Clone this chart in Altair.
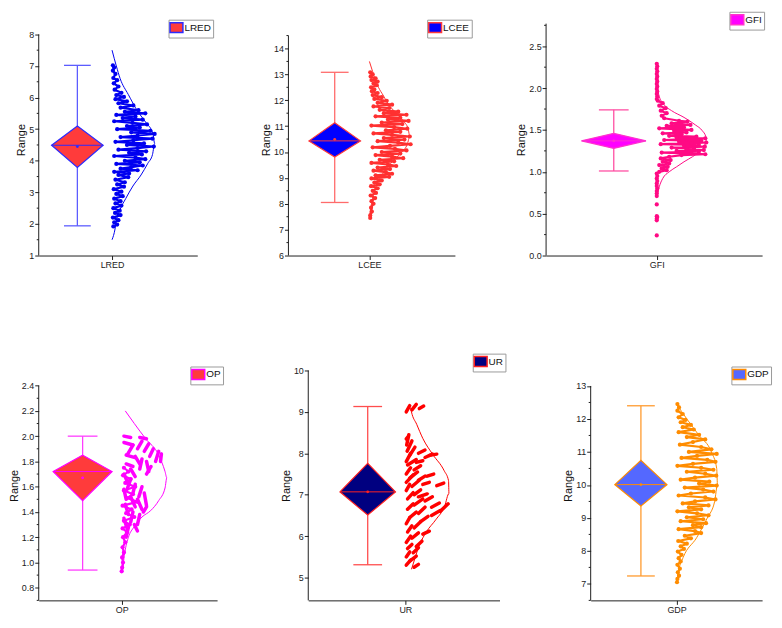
import math
import altair as alt
import pandas as pd

NAMES = ["LRED", "LCEE", "GFI", "OP", "UR", "GDP"]
WHISK_LO = [1.94, 8.05, 1.01, 0.94, 5.31, 7.24]
WHISK_HI = [7.02, 13.08, 1.74, 2.00, 9.13, 12.40]
Q1 = [3.79, 9.81, 1.28, 1.49, 6.51, 9.36]
Q3 = [5.10, 11.13, 1.46, 1.85, 7.76, 10.75]
MEDIAN = [4.49, 10.43, 1.37, 1.72, 7.07, 10.01]
MEAN = [4.45, 10.49, 1.37, 1.67, 7.07, 10.01]

BOX_FILL = ["#ff3b3b", "#0000ff", "#ff00ff", "#ff3b3b", "#000080", "#5468ff"]
BOX_EDGE = ["#2b2bff", "#ff3b3b", "#ff33cc", "#ff00ff", "#ff2020", "#ff8c00"]
WHISK_COL = ["#5c5cff", "#ff6b6b", "#ff4fa3", "#ff3dff", "#ff4d4d", "#ff9a2e"]
PT_COL = ["#0000f0", "#ff3030", "#ff0a84", "#ff00ff", "#ff0000", "#ff8c00"]

# scatter paths: (value, relative jitter 0..1)
LRED_PTS = [(7.02,0.02),(6.95,0.05),(6.85,0.02),(6.75,0.08),(6.62,0.03),(6.55,0.12),(6.45,0.04),(6.35,0.15),
            (6.25,0.06),(6.15,0.22),(6.08,0.1),(6.02,0.28),(5.95,0.08),(5.88,0.35),(5.82,0.15),(5.75,0.5),
            (5.68,0.2),(5.6,0.62),(5.55,0.3),(5.5,0.78),(5.45,0.1),(5.4,0.55),(5.35,0.25),(5.3,0.72),
            (5.25,0.05),(5.2,0.48),(5.15,0.82),(5.1,0.35),(5.05,0.65),(5.0,0.12),(4.95,0.9),(4.9,0.45),
            (4.85,1.0),(4.8,0.6),(4.75,0.2),(4.7,0.95),(4.65,0.5),(4.6,0.08),(4.55,0.75),(4.5,0.35),
            (4.45,0.98),(4.4,0.6),(4.35,0.15),(4.3,0.8),(4.25,0.4),(4.2,0.7),(4.15,0.05),(4.1,0.55),
            (4.05,0.78),(4.0,0.3),(3.95,0.65),(3.9,0.1),(3.85,0.72),(3.8,0.45),(3.75,0.2),(3.7,0.6),
            (3.65,0.05),(3.6,0.4),(3.55,0.15),(3.48,0.38),(3.4,0.08),(3.32,0.3),(3.25,0.12),(3.18,0.28),
            (3.1,0.04),(3.02,0.22),(2.95,0.1),(2.88,0.25),(2.8,0.05),(2.72,0.2),(2.65,0.08),(2.58,0.22),
            (2.5,0.03),(2.42,0.18),(2.35,0.07),(2.28,0.2),(2.2,0.02),(2.12,0.15),(2.05,0.05),(1.98,0.12),(1.92,0.03)]
LRED_CURVE = [(7.5,0),(7.0,0.1),(6.6,0.19),(6.1,0.38),(5.57,0.6),(5.2,0.8),(4.86,0.96),(4.55,1.0),(4.2,0.95),
              (3.92,0.84),(3.55,0.68),(3.2,0.49),(2.8,0.32),(2.46,0.19),(2.1,0.1),(1.84,0.07),(1.5,0)]

LCEE_PTS = [(13.08,0.02),(13.0,0.08),(12.92,0.03),(12.85,0.15),(12.78,0.05),(12.72,0.2),(12.65,0.1),(12.58,0.18),
            (12.5,0.04),(12.42,0.12),(12.35,0.06),(12.28,0.2),(12.2,0.08),(12.12,0.3),(12.05,0.12),(11.98,0.42),
            (11.9,0.2),(11.83,0.55),(11.76,0.1),(11.7,0.48),(11.63,0.25),(11.56,0.7),(11.5,0.35),(11.44,0.9),
            (11.38,0.15),(11.32,0.75),(11.26,0.45),(11.2,0.95),(11.14,0.3),(11.08,0.8),(11.02,0.05),(10.96,0.6),
            (10.9,0.92),(10.84,0.4),(10.78,0.75),(10.72,0.1),(10.66,0.55),(10.6,0.98),(10.54,0.35),(10.48,0.85),
            (10.42,0.2),(10.36,0.7),(10.3,1.0),(10.24,0.5),(10.18,0.08),(10.12,0.62),(10.06,0.9),(10.0,0.3),
            (9.94,0.75),(9.88,0.15),(9.82,0.55),(9.76,0.82),(9.7,0.25),(9.64,0.6),(9.58,0.05),(9.52,0.45),
            (9.46,0.65),(9.4,0.2),(9.34,0.5),(9.28,0.1),(9.22,0.4),(9.16,0.55),(9.1,0.15),(9.04,0.48),
            (8.98,0.05),(8.9,0.3),(8.82,0.12),(8.75,0.25),(8.68,0.04),(8.6,0.2),(8.5,0.08),(8.42,0.16),
            (8.32,0.03),(8.22,0.14),(8.1,0.05),(8.0,0.1),(7.85,0.04),(7.7,0.06),(7.55,0.02),(7.45,0.02)]
LCEE_CURVE = [(13.5,0),(13.1,0.08),(12.8,0.14),(12.5,0.22),(12.2,0.33),(11.85,0.46),(11.5,0.65),(11.2,0.82),
              (10.9,0.94),(10.6,0.98),(10.3,0.92),(10.0,0.78),(9.7,0.6),(9.4,0.43),(9.1,0.3),(8.8,0.2),
              (8.4,0.11),(8.0,0.05),(7.5,0.0)]

GFI_PTS = [(1.85,0.02),(1.82,0.12),(1.79,0.05),(1.76,0.18),(1.73,0.08),(1.7,0.2),(1.67,0.1),(1.64,0.15),
           (1.61,0.45),(1.6,0.62),(1.58,0.3),(1.56,0.68),(1.55,0.2),(1.53,0.55),(1.52,0.05),(1.5,0.7),
           (1.49,0.35),(1.47,0.6),(1.46,0.12),(1.45,0.5),(1.43,0.25),(1.42,0.8),(1.41,0.4),(1.4,0.98),
           (1.39,0.6),(1.38,0.15),(1.37,0.9),(1.36,0.45),(1.35,1.0),(1.34,0.7),(1.33,0.08),(1.32,0.85),
           (1.31,0.55),(1.3,0.97),(1.29,0.3),(1.28,0.75),(1.27,0.6),(1.26,0.95),(1.25,0.4),(1.24,0.85),
           (1.23,0.1),(1.22,0.7),(1.21,0.98),(1.2,0.5),(1.18,0.25),(1.16,0.08),(1.14,0.28),(1.12,0.12),
           (1.1,0.25),(1.08,0.05),(1.06,0.22),(1.04,0.1),(1.02,0.2),(1.0,0.05)]
GFI_DOTS = [(2.29,0.0),(2.26,0.01),(2.23,0.0),(2.2,0.01),(2.17,0.0),(2.14,0.01),(2.11,0.0),(2.08,0.01),
            (2.05,0.0),(2.02,0.01),(1.99,0.0),(1.96,0.01),(1.93,0.0),(1.9,0.01),(1.87,0.0),(0.98,0.0),
            (0.95,0.01),(0.92,0.0),(0.89,0.01),(0.86,0.0),(0.83,0.0),(0.8,0.01),(0.77,0.0),(0.74,0.0),
            (0.71,0.0),(0.61,0.0),(0.47,0.0),(0.46,0.01),(0.44,0.0),(0.42,0.0),(0.24,0.0)]
GFI_CURVE = [(2.02,0),(1.9,0.05),(1.8,0.15),(1.73,0.3),(1.65,0.55),(1.56,0.78),(1.49,0.92),(1.42,0.99),
             (1.37,1.0),(1.3,0.96),(1.24,0.86),(1.18,0.72),(1.12,0.55),(1.06,0.4),(1.0,0.25),(0.92,0.12),
             (0.82,0.05),(0.72,0.01)]

OP_PTS = [(1.75,0.05),(1.72,0.15),(1.69,0.03),(1.66,0.2),(1.63,0.08),(1.6,0.3),(1.57,0.05),(1.54,0.25),
          (1.51,0.12),(1.48,0.35),(1.45,0.02),(1.42,0.22),(1.39,0.1),(1.36,0.28),(1.33,0.05),(1.3,0.18),
          (1.27,0.02),(1.24,0.12),(1.2,0.03),(1.16,0.08),(1.12,0.02),(1.08,0.05),(1.04,0.01),(1.0,0.03),
          (0.96,0.01),(0.93,0.0)]
# dashes: (value1, jitter1, value2, jitter2)
OP_DASH = [(2.00,0.05,1.99,0.20),(1.99,0.40,1.98,0.55),(1.95,0.05,1.93,0.25),(1.93,0.25,1.85,0.12),
           (1.96,0.45,1.90,0.35),(1.94,0.60,1.88,0.50),(1.90,0.70,1.84,0.62),(1.88,0.82,1.80,0.75),
           (1.86,0.88,1.80,0.86),(1.85,0.10,1.83,0.30),(1.84,0.30,1.78,0.40),(1.82,0.45,1.74,0.40),
           (1.80,0.55,1.72,0.60),(1.78,0.10,1.76,0.25),(1.76,0.65,1.70,0.55),(1.74,0.20,1.68,0.30),
           (1.70,0.05,1.62,0.15),(1.66,0.20,1.58,0.12),(1.62,0.30,1.55,0.25),(1.60,0.45,1.52,0.38),
           (1.58,0.05,1.50,0.10),(1.55,0.50,1.45,0.55),(1.52,0.20,1.44,0.30),(1.50,0.35,1.42,0.45),
           (1.46,0.08,1.38,0.15),(1.44,0.55,1.40,0.48),(1.40,0.25,1.32,0.20),(1.38,0.40,1.30,0.35),
           (1.35,0.05,1.27,0.12),(1.30,0.28,1.25,0.35),(1.28,0.15,1.20,0.10)]
OP_CURVE = [(2.2,0.08),(2.1,0.28),(1.98,0.53),(1.85,0.82),(1.72,0.96),(1.67,1.0),(1.59,0.96),(1.49,0.82),
            (1.41,0.64),(1.36,0.45),(1.28,0.27),(1.2,0.15),(1.1,0.08),(1.0,0.04),(0.92,0.02)]

UR_DASH = [(9.00,0.02,9.15,0.10),(9.05,0.15,9.18,0.25),(9.08,0.32,9.14,0.42),(8.20,0.03,8.45,0.08),
           (8.05,0.04,8.30,0.15),(7.95,0.10,8.15,0.22),(7.80,0.02,8.00,0.12),(8.00,0.30,8.08,0.45),
           (7.90,0.45,7.98,0.62),(7.72,0.05,7.85,0.25),(7.78,0.25,7.82,0.40),(7.50,0.02,7.65,0.12),
           (7.40,0.10,7.55,0.28),(7.30,0.02,7.48,0.18),(7.35,0.30,7.45,0.45),(7.25,0.40,7.30,0.55),
           (7.20,0.15,7.35,0.32),(7.10,0.02,7.25,0.10),(7.00,0.20,7.12,0.35),(6.90,0.05,7.05,0.18),
           (6.95,0.30,7.02,0.50),(6.85,0.45,6.95,0.62),(6.75,0.20,6.90,0.40),(6.70,0.60,6.80,0.78),
           (6.65,0.05,6.78,0.18),(6.55,0.30,6.70,0.45),(6.50,0.60,6.62,0.80),(6.45,0.10,6.58,0.25),
           (6.35,0.35,6.48,0.52),(6.30,0.02,6.45,0.10),(6.20,0.20,6.35,0.35),(6.10,0.05,6.25,0.15),
           (6.05,0.40,6.12,0.55),(5.95,0.15,6.08,0.30),(5.85,0.02,6.00,0.12),(5.75,0.25,5.88,0.38),
           (5.70,0.05,5.80,0.15),(5.60,0.18,5.72,0.30),(5.50,0.02,5.62,0.10),(5.40,0.10,5.52,0.25),
           (5.30,0.02,5.42,0.12),(5.25,0.20,5.32,0.30),(8.35,0.02,8.40,0.06),(7.60,0.20,7.70,0.35),
           (7.45,0.50,7.50,0.65),(6.60,0.80,6.78,0.98),(7.22,0.72,7.28,0.88),(7.95,0.55,7.98,0.72)]
UR_CURVE = [(9.1,0.12),(9.0,0.14),(8.7,0.26),(8.36,0.4),(7.97,0.63),(7.58,0.89),(7.34,0.99),(7.03,1.0),
            (6.72,0.9),(6.4,0.7),(6.1,0.48),(5.7,0.29),(5.4,0.2),(5.2,0.14)]

GDP_PTS = [(12.45,0.02),(12.35,0.06),(12.25,0.02),(12.15,0.15),(12.05,0.05),(11.97,0.22),(11.9,0.1),(11.82,0.35),
           (11.75,0.15),(11.68,0.42),(11.6,0.05),(11.52,0.55),(11.45,0.25),(11.38,0.7),(11.3,0.4),(11.22,0.08),
           (11.15,0.6),(11.08,0.85),(11.0,0.3),(10.94,0.98),(10.88,0.5),(10.82,0.12),(10.76,0.75),(10.7,0.95),
           (10.64,0.4),(10.58,0.02),(10.52,0.6),(10.46,0.9),(10.4,0.25),(10.34,0.7),(10.28,0.97),(10.22,0.45),
           (10.16,0.1),(10.1,0.8),(10.04,0.55),(9.98,0.98),(9.92,0.2),(9.86,0.65),(9.8,0.9),(9.74,0.35),
           (9.68,0.05),(9.62,0.7),(9.56,0.95),(9.5,0.45),(9.44,0.15),(9.38,0.78),(9.32,0.3),(9.26,0.6),
           (9.2,0.02),(9.14,0.5),(9.08,0.78),(9.02,0.25),(8.96,0.65),(8.9,0.1),(8.84,0.72),(8.78,0.4),
           (8.72,0.6),(8.66,0.05),(8.6,0.45),(8.54,0.6),(8.46,0.2),(8.38,0.35),(8.3,0.04),(8.22,0.25),
           (8.14,0.1),(8.06,0.18),(7.98,0.03),(7.88,0.12),(7.78,0.05),(7.68,0.1),(7.58,0.02),(7.46,0.08),
           (7.35,0.03),(7.25,0.06),(7.15,0.02),(7.05,0.01)]
GDP_CURVE = [(12.45,0.0),(12.0,0.25),(11.5,0.55),(11.0,0.85),(10.5,0.98),(10.0,1.0),(9.5,0.93),(9.0,0.75),
             (8.4,0.49),(7.8,0.16),(7.4,0.05),(7.0,0.0)]

PTS = [LRED_PTS, LCEE_PTS, GFI_PTS, OP_PTS, [], GDP_PTS]
DOTS = [[], [], GFI_DOTS, [], [], []]
DASHES = [[], [], [], OP_DASH, UR_DASH, []]
CURVES = [LRED_CURVE, LCEE_CURVE, GFI_CURVE, OP_CURVE, UR_CURVE, GDP_CURVE]

# layout (pixels inside each panel)
LAYOUT = [
    dict(w=160, h=234, ydom=[1, 8.34], top=8, step=1, minor=0.5, fmt="d",
         cx=39, cat=74, hw=26, cw=13.5, spread=43, lx=131, ly=-4),
    dict(w=168, h=234, ydom=[6, 14.96], top=14.5, step=1, minor=0.5, fmt="d",
         cx=46.7, cat=81.7, hw=26, cw=14, spread=41.6, lx=140, ly=-4),
    dict(w=218, h=234, ydom=[0, 2.77], top=2.77, step=0.5, minor=0.25, fmt=".1f",
         cx=68.3, cat=111.7, hw=32.5, cw=15, spread=50, lx=185, ly=-12),
    dict(w=180, h=232, ydom=[0.7, 2.52], top=2.4, step=0.2, minor=0.1, fmt=".1f",
         cx=44.3, cat=83.7, hw=29.7, cw=15, spread=45.6, lx=153, ly=-4),
    dict(w=193, h=232, ydom=[4.45, 10], top=10, step=1, minor=1, fmt="d",
         cx=60, cat=98, hw=28, cw=14.5, spread=44, lx=166, ly=-17),
    dict(w=173, h=232, ydom=[6.5, 13.47], top=13, step=1, minor=0.5, fmt="d",
         cx=50.7, cat=86.7, hw=26.3, cw=14, spread=41.3, lx=142, ly=-4),
]

NARROW = "Liberation Sans Narrow, Arial Narrow, Liberation Sans, sans-serif"
AXC = "#1e1e1e"


def tick_values(lo, top, step):
    n0 = math.ceil(lo / step - 1e-9)
    n1 = math.floor(top / step + 1e-9)
    return [round(k * step, 4) for k in range(n0, n1 + 1)]


def panel(i):
    L = LAYOUT[i]
    name = NAMES[i]
    xsc = alt.Scale(domain=[0, L["w"]], nice=False, zero=False)
    ysc = alt.Scale(domain=L["ydom"], nice=False, zero=False)
    majors = tick_values(L["ydom"][0], L["top"], L["step"])
    yaxis = alt.Axis(
        title="Range", values=majors, format=L["fmt"], tickSize=4,
        domain=False, grid=False, labelOverlap=False, labelFlush=False,
        labelFont=NARROW, labelFontSize=9, labelColor="#222", labelPadding=1,
        tickColor=AXC, tickWidth=1,
        titleFont="Liberation Sans", titleFontSize=11, titleFontWeight="normal",
        titleColor="#111", titlePadding=2)
    xaxis = alt.Axis(
        title=None, values=[L["cat"]], labelExpr=f"'{name}'", tickSize=4,
        grid=False, domain=True, domainColor=AXC, domainWidth=1, labelFlush=False,
        labelFont=NARROW, labelFontSize=9, labelColor="#222", labelPadding=1,
        tickColor=AXC)

    def X(f="x"):
        return alt.X(f"{f}:Q", scale=xsc, axis=xaxis)

    def Y(f="y"):
        return alt.Y(f"{f}:Q", scale=ysc, axis=yaxis)

    cat, sp, cx = L["cat"], L["spread"], L["cx"]
    layers = []
    axis_df = pd.DataFrame({"x": [0.0], "y": [L["ydom"][0]], "y2": [L["top"]]})
    layers.append(alt.Chart(axis_df).mark_rule(color=AXC, strokeWidth=1).encode(
        x=X(), y=Y(), y2="y2:Q"))
    if L["minor"] < L["step"]:
        allt = tick_values(L["ydom"][0], L["top"], L["minor"])
        minors = [v for v in allt if all(abs(v - m) > 1e-6 for m in majors)]
        layers.append(alt.Chart(pd.DataFrame({"y": minors})).mark_rule(
            color=AXC, strokeWidth=1).encode(x=alt.value(-2), x2=alt.value(0), y=Y()))

    cv = CURVES[i]
    cdf = pd.DataFrame({"x": [cat + j * sp for _, j in cv], "y": [v for v, _ in cv],
                        "i": list(range(len(cv)))})
    layers.append(alt.Chart(cdf).mark_line(color=PT_COL[i], strokeWidth=1,
                                           interpolate="monotone").encode(
        x=X(), y=Y(), order="i:Q"))

    if PTS[i]:
        p = PTS[i]
        pdf = pd.DataFrame({"x": [cat + j * sp for _, j in p], "y": [v for v, _ in p],
                            "i": list(range(len(p)))})
        layers.append(alt.Chart(pdf).mark_line(color=PT_COL[i], strokeWidth=2.2,
                                               strokeJoin="round").encode(
            x=X(), y=Y(), order="i:Q"))
        layers.append(alt.Chart(pdf).mark_circle(color=PT_COL[i], size=18, opacity=1).encode(
            x=X(), y=Y()))
    if DOTS[i]:
        d = DOTS[i]
        ddf = pd.DataFrame({"x": [cat + j * sp for _, j in d], "y": [v for v, _ in d]})
        layers.append(alt.Chart(ddf).mark_circle(color=PT_COL[i], size=18, opacity=1).encode(
            x=X(), y=Y()))
    if DASHES[i]:
        ds = DASHES[i]
        sdf = pd.DataFrame({"x": [cat + a[1] * sp for a in ds], "y": [a[0] for a in ds],
                            "x2": [cat + a[3] * sp for a in ds], "y2": [a[2] for a in ds]})
        layers.append(alt.Chart(sdf).mark_rule(color=PT_COL[i], strokeWidth=3.5,
                                               strokeCap="round").encode(
            x=X(), y=Y(), x2="x2:Q", y2="y2:Q"))

    wdf = pd.DataFrame({"x": [cx], "y": [WHISK_LO[i]], "y2": [WHISK_HI[i]]})
    layers.append(alt.Chart(wdf).mark_rule(color=WHISK_COL[i], strokeWidth=1.3).encode(
        x=X(), y=Y(), y2="y2:Q"))
    capdf = pd.DataFrame({"x": [cx - L["cw"]] * 2, "x2": [cx + L["cw"]] * 2,
                          "y": [WHISK_LO[i], WHISK_HI[i]]})
    layers.append(alt.Chart(capdf).mark_rule(color=WHISK_COL[i], strokeWidth=1.3).encode(
        x=X(), x2="x2:Q", y=Y()))

    hw = L["hw"]
    ddf = pd.DataFrame({"x": [cx - hw, cx, cx + hw],
                        "y": [MEDIAN[i], Q3[i], MEDIAN[i]],
                        "y2": [MEDIAN[i], Q1[i], MEDIAN[i]],
                        "name": [name] * 3})
    legend = alt.Legend(
        title=None, orient="none", legendX=L["lx"], legendY=L["ly"],
        symbolType="M-1.3,-1H1.3V1H-1.3Z", symbolSize=100,
        symbolStrokeColor=BOX_EDGE[i], symbolStrokeWidth=1.5, symbolOpacity=1,
        labelFont=NARROW, labelFontSize=10, labelColor="#111", labelOffset=2,
        padding=2, strokeColor="#9a9a9a", fillColor="white")
    layers.append(alt.Chart(ddf).mark_area(stroke=BOX_EDGE[i], strokeWidth=1.2,
                                           opacity=1, interpolate="linear").encode(
        x=X(), y=Y(), y2="y2:Q",
        fill=alt.Fill("name:N", scale=alt.Scale(domain=[name], range=[BOX_FILL[i]]),
                      legend=legend)))
    mdf = pd.DataFrame({"x": [cx - hw], "x2": [cx + hw], "y": [MEDIAN[i]]})
    layers.append(alt.Chart(mdf).mark_rule(color=BOX_EDGE[i], strokeWidth=1).encode(
        x=X(), x2="x2:Q", y=Y()))
    mndf = pd.DataFrame({"x": [cx], "y": [MEAN[i]]})
    layers.append(alt.Chart(mndf).mark_circle(color=BOX_EDGE[i], size=8, opacity=1).encode(
        x=X(), y=Y()))

    return alt.layer(*layers).properties(width=L["w"], height=L["h"])


row1 = alt.hconcat(panel(0), panel(1), panel(2), spacing=92, bounds="flush").resolve_scale(
    fill="independent")
row2 = alt.hconcat(panel(3), panel(4), panel(5), spacing=92, bounds="flush").resolve_scale(
    fill="independent")

chart = alt.vconcat(row1, row2, spacing=84).resolve_scale(
    fill="independent").properties(
    padding={"left": 0, "top": 0, "right": 2, "bottom": 2},
    background="white").configure_view(stroke=None)

chart.save("out.html", embed_options={"renderer": "svg", "actions": False})
